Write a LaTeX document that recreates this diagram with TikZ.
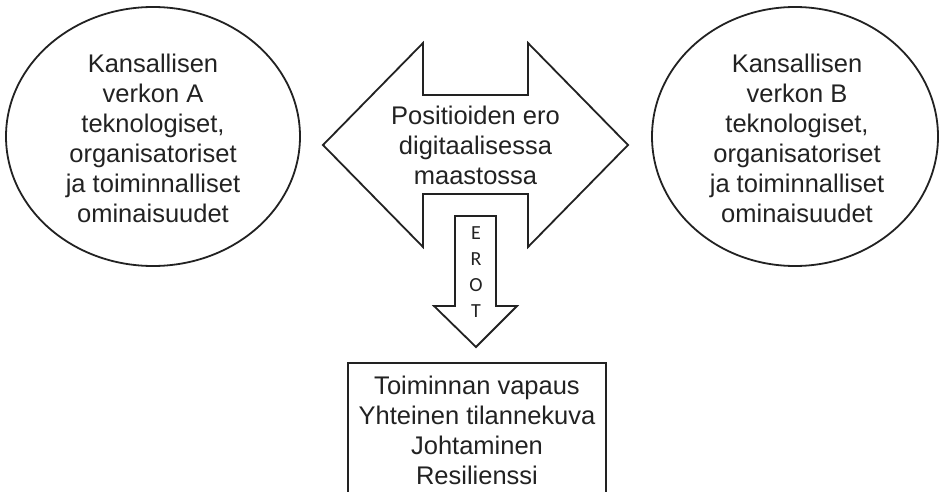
\documentclass[tikz,border=0pt]{standalone}
\usepackage{fontspec}
\setmainfont{Liberation Sans}
\newfontfamily\arrowfont{Carlito}
\usetikzlibrary{shapes.geometric}
\definecolor{ink}{HTML}{222222}
\begin{document}
\begin{tikzpicture}[x=1pt,y=-1pt,
  outline/.style={draw=ink,line width=1.8pt,line join=miter},
  bodytext/.style={text=ink,align=center,font=\fontsize{25.5}{30}\selectfont,inner sep=0pt},
  oval/.style={outline,ellipse,inner sep=0pt}]
\useasboundingbox (0,0) rectangle (939,492);
\clip (0,0) rectangle (939,492);
\fill[white] (0,0) rectangle (939,492);

% networks A and B
\node[oval,minimum width=294pt,minimum height=259pt] (netA) at (153,136.5) {};
\node[bodytext] (textA) at (153,138) {Kansallisen\\verkon A\\teknologiset,\\organisatoriset\\ja toiminnalliset\\ominaisuudet};
\node[oval,minimum width=286pt,minimum height=259pt] (netB) at (795,136.5) {};
\node[bodytext] (textB) at (797,138) {Kansallisen\\verkon B\\teknologiset,\\organisatoriset\\ja toiminnalliset\\ominaisuudet};

% double-headed arrow between the networks
\draw[outline] (323,145) -- (423,43) -- (423,95) -- (528,95) -- (528,43)
  -- (628,145) -- (528,247) -- (528,194) -- (423,194) -- (423,247) -- cycle;
\node[bodytext] (gap) at (475.5,145) {Positioiden ero\\digitaalisessa\\maastossa};

% downward arrow
\draw[outline] (455,216) -- (496,216) -- (496,306) -- (517,306) -- (476,347)
  -- (434,306) -- (455,306) -- cycle;
\node[text=ink,align=center,inner sep=0pt,font=\arrowfont\fontsize{20}{26}\selectfont] (erot) at (476,272.5) {E\\R\\O\\T};

% outcome box
\draw[outline] (348,520) -- (348,363) -- (606,363) -- (606,520);
\node[bodytext] (result) at (477,430) {Toiminnan vapaus\\Yhteinen tilannekuva\\Johtaminen\\Resilienssi};
\end{tikzpicture}
\end{document}
